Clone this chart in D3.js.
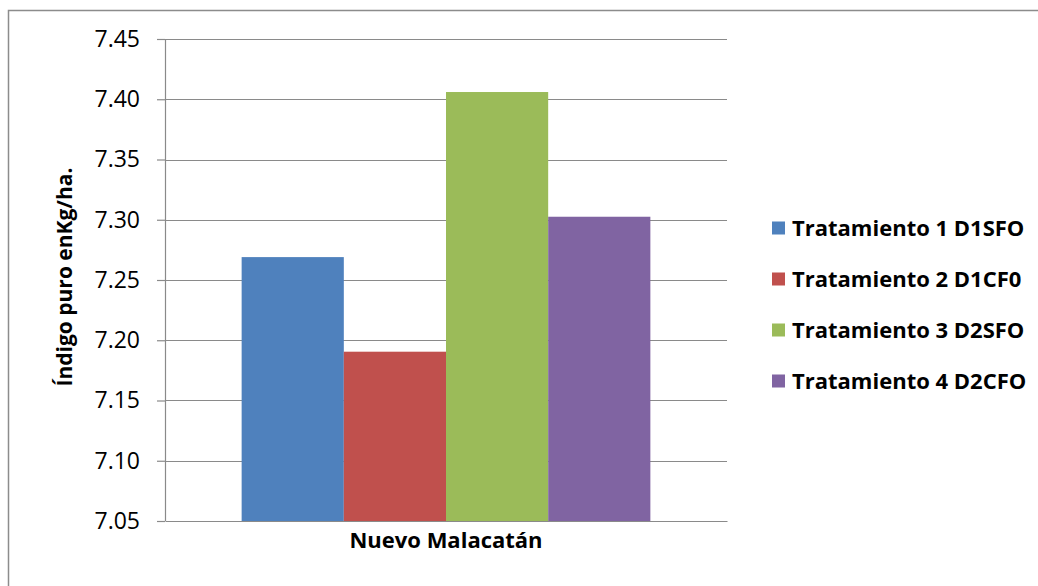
<!DOCTYPE html>
<html>
<head>
<meta charset="utf-8">
<script src="https://cdn.jsdelivr.net/npm/d3@7"></script>
<style>
  body { margin: 0; background: #fff; }
  text { font-family: "Open Sans", "DejaVu Sans", sans-serif; fill: #000; }
</style>
</head>
<body>
<div id="chart"></div>
<script>
// Data
const category = "Nuevo Malacatán";
const seriesNames = ["Tratamiento 1 D1SFO", "Tratamiento 2 D1CF0", "Tratamiento 3 D2SFO", "Tratamiento 4 D2CFO"];
const seriesValues = [7.269, 7.1905, 7.406, 7.3025];
const seriesColors = ["#4F81BD", "#C0504D", "#9BBB59", "#8064A2"];
const yTicks = [7.05, 7.10, 7.15, 7.20, 7.25, 7.30, 7.35, 7.40, 7.45];

const W = 1038, H = 586;
const plot = { left: 165, right: 727, top: 39, bottom: 521 };

const svg = d3.select("#chart").append("svg").attr("width", W).attr("height", H);

// outer chart border (only top/left visible in the frame)
svg.append("rect").attr("x", 8.5).attr("y", 10.5).attr("width", W + 20).attr("height", H + 20)
    .attr("fill", "none").attr("stroke", "#8c8c8c").attr("stroke-width", 1.5);

const y = d3.scaleLinear().domain([7.05, 7.45]).range([plot.bottom, plot.top]);
const x0 = d3.scaleBand().domain([category]).range([plot.left, plot.right]).paddingInner(0).paddingOuter(0);
// Excel gap width 150%: bars take 4/(4+1.5) of the band
const groupW = x0.bandwidth() * 4 / 5.5;
const x1 = d3.scaleBand().domain(seriesNames)
    .range([x0(category) + (x0.bandwidth() - groupW) / 2, x0(category) + (x0.bandwidth() + groupW) / 2]);

// gridlines
svg.append("g").selectAll("line").data(yTicks.slice(1)).enter().append("line")
    .attr("x1", plot.left).attr("x2", plot.right)
    .attr("y1", d => Math.round(y(d)) + 0.5).attr("y2", d => Math.round(y(d)) + 0.5)
    .attr("stroke", "#8a8a8a").attr("stroke-width", 1.2);

// bars
svg.append("g").selectAll("rect").data(seriesValues).enter().append("rect")
    .attr("x", (d, i) => x1(seriesNames[i]))
    .attr("width", x1.bandwidth())
    .attr("y", d => y(d))
    .attr("height", d => plot.bottom - y(d))
    .attr("fill", (d, i) => seriesColors[i]);

// y axis
const yAxis = svg.append("g").attr("transform", `translate(${plot.left},0)`)
    .call(d3.axisLeft(y).tickValues(yTicks).tickFormat(d3.format(".2f")).tickSize(8).tickPadding(17));
yAxis.select(".domain").attr("stroke", "#8a8a8a").attr("stroke-width", 1.2).attr("d", `M0.5,${plot.top}V${plot.bottom}`);
yAxis.selectAll(".tick line").attr("stroke", "#8a8a8a").attr("stroke-width", 1.2);
yAxis.selectAll(".tick text").style("font-size", "23px").style("font-family", "\"Open Sans\", sans-serif").attr("fill", "#000");

// x axis
const xAxis = svg.append("g").attr("transform", `translate(0,${plot.bottom})`)
    .call(d3.axisBottom(x0).tickSize(0).tickPadding(11));
xAxis.select(".domain").attr("stroke", "#8a8a8a").attr("stroke-width", 1.2);
xAxis.selectAll(".tick text").style("font-size", "22px").style("font-weight", "bold")
    .style("font-family", "\"Open Sans\", sans-serif").attr("fill", "#000");

// y axis title
svg.append("text").attr("transform", "translate(72,277) rotate(-90)")
    .attr("text-anchor", "middle").style("font-size", "21px").style("font-weight", "bold")
    .text("Índigo puro enKg/ha.");

// legend
const legend = svg.append("g").selectAll("g").data(seriesNames).enter().append("g")
    .attr("transform", (d, i) => `translate(772,${228 + i * 51})`);
legend.append("rect").attr("x", 0).attr("y", -6.5).attr("width", 13).attr("height", 13)
    .attr("fill", (d, i) => seriesColors[i]);
legend.append("text").attr("x", 20).attr("y", 0).attr("dy", "0.35em")
    .style("font-size", "22px").style("font-weight", "bold").text(d => d);
</script>
</body>
</html>
